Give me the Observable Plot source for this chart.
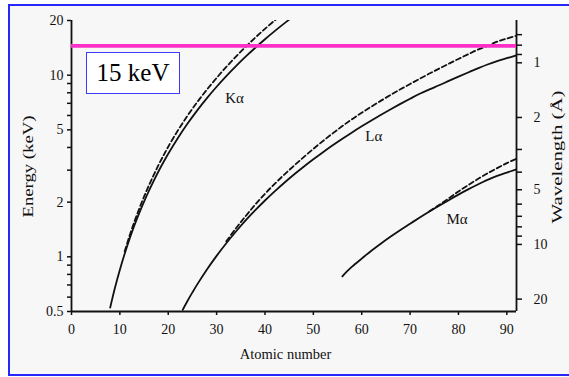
<!DOCTYPE html>
<html><head><meta charset="utf-8">
<script src="https://cdn.jsdelivr.net/npm/d3@7"></script>
<script src="https://cdn.jsdelivr.net/npm/@observablehq/plot@0.6"></script>
<style>
body{margin:0;background:#fff;}
#wrap{position:relative;width:569px;height:377px;overflow:hidden;}
#frame{position:absolute;left:8px;top:4px;width:600px;height:368px;border:2px solid #2626ff;background:#f7f7f7;}
#chart{position:absolute;left:0;top:0;}
#box{position:absolute;left:86px;top:52px;width:92px;height:40px;border:1.5px solid #3b3bff;background:#fff;font:25px "Liberation Serif",serif;color:#000;display:flex;align-items:center;justify-content:center;}
</style></head>
<body><div id="wrap"><div id="frame"></div><div id="chart"></div><div id="box">15 keV</div></div>
<script>
// X-ray energies vs atomic number, [Z, keV]
const kAlphaLine = [[8,0.525],[9,0.677],[10,0.849],[11,1.041],[12,1.254],[13,1.487],[14,1.740],[15,2.014],[16,2.308],[17,2.622],[18,2.958],[19,3.314],[20,3.692],[22,4.511],[24,5.415],[26,6.404],[28,7.478],[30,8.639],[32,9.886],[34,11.222],[36,12.649],[38,14.165],[40,15.775],[42,17.479],[44,19.279],[45,20.216]];
const kEdge = [[11,1.072],[12,1.305],[13,1.560],[14,1.839],[15,2.146],[16,2.472],[17,2.822],[18,3.206],[19,3.608],[20,4.038],[22,4.966],[24,5.989],[26,7.112],[28,8.333],[30,9.659],[32,11.103],[34,12.658],[36,14.326],[38,16.105],[40,17.998],[42,20.0],[43,21.04]];
const lAlphaLine = [[23,0.511],[24,0.573],[25,0.637],[26,0.705],[28,0.852],[30,1.012],[32,1.188],[34,1.379],[36,1.586],[38,1.806],[40,2.042],[42,2.293],[44,2.558],[46,2.838],[48,3.133],[50,3.444],[52,3.769],[54,4.110],[56,4.466],[58,4.840],[60,5.230],[62,5.636],[64,6.057],[66,6.495],[68,6.949],[70,7.416],[72,7.899],[74,8.35],[76,8.8],[78,9.3],[80,9.82],[82,10.35],[84,10.9],[86,11.45],[88,11.95],[90,12.4],[92,12.85]];
const lEdge = [[32,1.217],[34,1.436],[36,1.675],[38,1.940],[40,2.223],[42,2.520],[44,2.838],[46,3.173],[48,3.538],[50,3.929],[52,4.341],[54,4.782],[56,5.247],[58,5.723],[60,6.208],[62,6.716],[64,7.243],[66,7.790],[68,8.358],[70,8.944],[72,9.561],[74,10.207],[76,10.871],[78,11.564],[80,12.284],[82,13.035],[84,13.814],[86,14.5],[88,15.3],[90,15.9],[92,16.5]];
const mAlphaLine = [[56,0.78],[57,0.833],[58,0.883],[60,0.978],[62,1.081],[64,1.185],[66,1.293],[68,1.406],[70,1.521],[72,1.645],[74,1.775],[76,1.910],[78,2.051],[80,2.20],[82,2.35],[84,2.50],[86,2.65],[88,2.79],[90,2.91],[92,3.03]];
const mEdge = [[74,1.78],[76,1.93],[78,2.10],[80,2.29],[82,2.48],[84,2.68],[86,2.88],[88,3.08],[90,3.28],[92,3.47]];
const curveLabels = [{name:"Kα",Z:33.7,E:7.5},{name:"Lα",Z:62.5,E:4.6},{name:"Mα",Z:79.7,E:1.61}];
const markerKeV = 14.5; // magenta line as drawn ("15 keV")
const xTicks = [0,10,20,30,40,50,60,70,80,90];
const yTicks = [0.5,0.6,0.7,0.8,0.9,1,2,3,4,5,6,7,8,9,10,20];
const yLabels = [0.5,1,2,5,10,20];
const wlTicks = [0.7,0.8,0.9,1,2,3,4,5,6,7,8,9,10,20];
const wlLabels = [1,2,5,10,20];
const hc = 11.7; // keV·Å, as implied by the printed wavelength scale

const ink = "#111";
const pairs = (arr) => arr.map(([Z,E]) => ({Z,E}));
const lineOpts = {x:"Z", y:"E", stroke:ink, strokeWidth:1.8, curve:"catmull-rom", clip:true};
const dashOpts = {...lineOpts, strokeDasharray:"5,3"};
const wlLabelData = wlLabels.map(l => ({E: hc / l, label: String(l)}));

const plot = Plot.plot({
  width:569, height:377,
  marginLeft:71, marginRight:53, marginTop:20, marginBottom:66,
  style:{background:"transparent", fontFamily:'"Liberation Serif", "Times New Roman", serif', fontSize:"14px", color:ink},
  x:{domain:[0,92]},
  y:{type:"log", domain:[0.5,20]},
  marks:[
    Plot.axisX(xTicks, {anchor:"bottom", tickSize:4, tickPadding:9, strokeWidth:1.5, label:null, fontSize:14}),
    Plot.axisY(yTicks, {anchor:"left", tickSize:4, tickPadding:4, strokeWidth:1.5, label:null, fontSize:14,
      tickFormat: d => yLabels.includes(d) ? String(d) : ""}),
    Plot.axisY(wlTicks.map(l => hc / l), {anchor:"right", tickSize:5, strokeWidth:1.5, label:null, tickFormat: null, text: null}),
    Plot.text(wlLabelData, {y:"E", text:"label", frameAnchor:"right", dx:17, textAnchor:"start", fontSize:14, fill:ink}),
    Plot.ruleX([0], {stroke:ink, strokeWidth:1.8}),
    Plot.ruleX([92], {stroke:ink, strokeWidth:1.8}),
    Plot.ruleY([0.5], {stroke:ink, strokeWidth:2}),
    Plot.line(pairs(kAlphaLine), lineOpts),
    Plot.line(pairs(kEdge), dashOpts),
    Plot.line(pairs(lAlphaLine), lineOpts),
    Plot.line(pairs(lEdge), dashOpts),
    Plot.line(pairs(mAlphaLine), lineOpts),
    Plot.line(pairs(mEdge), dashOpts),
    Plot.ruleY([markerKeV], {stroke:"#ff30c8", strokeWidth:3.6}),
    Plot.text(curveLabels, {x:"Z", y:"E", text:"name", fontSize:15, fill:ink}),
    Plot.text(["Energy (keV)"], {frameAnchor:"left", textAnchor:"middle", rotate:-90, dx:-43, dy:0.5, fontSize:14, fill:ink}),
    Plot.text(["Wavelength (Å)"], {frameAnchor:"right", textAnchor:"middle", rotate:-90, dx:41.5, dy:-9, fontSize:14, fill:ink}),
    Plot.text(["Atomic number"], {frameAnchor:"bottom", textAnchor:"middle", dx:-8.5, dy:47, fontSize:14.5, fill:ink})
  ]
});
document.getElementById("chart").appendChild(plot);
// the scanned titles are stretched along their length
const stretch = {"Energy (keV)": 102, "Wavelength (Å)": 133};
plot.querySelectorAll("text").forEach(t => {
  const target = stretch[t.textContent];
  if (target) {
    const natural = t.getComputedTextLength();
    if (natural > 0) t.setAttribute("transform", (t.getAttribute("transform") || "") + ` scale(${target / natural},1)`);
  }
});
</script>
</body></html>
